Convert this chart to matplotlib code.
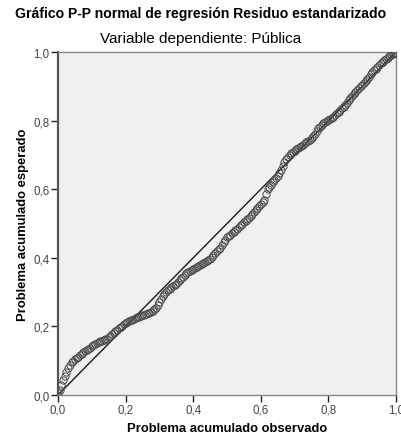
import matplotlib.pyplot as plt

plt.rcParams['font.family'] = ['Liberation Sans', 'DejaVu Sans']

titulo = "Gráfico P-P normal de regresión Residuo estandarizado"
subtitulo = "Variable dependiente: Pública"
etiqueta_x = "Problema acumulado observado"
etiqueta_y = "Problema acumulado esperado"
ticks = [0.0, 0.2, 0.4, 0.6, 0.8, 1.0]
ticks_txt = ["0,0", "0,2", "0,4", "0,6", "0,8", "1,0"]

# probabilidad acumulada observada
observado = [
    0.000, 0.005, 0.010, 0.015, 0.020, 0.025, 0.030, 0.035, 0.040, 0.045,
    0.050, 0.055, 0.060, 0.065, 0.070, 0.075, 0.080, 0.085, 0.090, 0.095,
    0.100, 0.105, 0.110, 0.115, 0.120, 0.125, 0.130, 0.135, 0.140, 0.145,
    0.150, 0.155, 0.160, 0.165, 0.170, 0.175, 0.180, 0.185, 0.190, 0.195,
    0.200, 0.205, 0.210, 0.215, 0.220, 0.225, 0.230, 0.235, 0.240, 0.245,
    0.250, 0.255, 0.260, 0.265, 0.270, 0.275, 0.280, 0.285, 0.290, 0.295,
    0.300, 0.305, 0.310, 0.315, 0.320, 0.325, 0.330, 0.335, 0.340, 0.345,
    0.350, 0.355, 0.360, 0.365, 0.370, 0.375, 0.380, 0.385, 0.390, 0.395,
    0.400, 0.405, 0.410, 0.415, 0.420, 0.425, 0.430, 0.435, 0.440, 0.445,
    0.450, 0.455, 0.460, 0.465, 0.470, 0.475, 0.480, 0.485, 0.490, 0.495,
    0.500, 0.505, 0.510, 0.515, 0.520, 0.525, 0.530, 0.535, 0.540, 0.545,
    0.550, 0.555, 0.560, 0.565, 0.570, 0.575, 0.580, 0.585, 0.590, 0.595,
    0.600, 0.605, 0.610, 0.615, 0.620, 0.625, 0.630, 0.635, 0.640, 0.645,
    0.650, 0.655, 0.660, 0.665, 0.670, 0.675, 0.680, 0.685, 0.690, 0.695,
    0.700, 0.705, 0.710, 0.715, 0.720, 0.725, 0.730, 0.735, 0.740, 0.745,
    0.750, 0.755, 0.760, 0.765, 0.770, 0.775, 0.780, 0.785, 0.790, 0.795,
    0.800, 0.805, 0.810, 0.815, 0.820, 0.825, 0.830, 0.835, 0.840, 0.845,
    0.850, 0.855, 0.860, 0.865, 0.870, 0.875, 0.880, 0.885, 0.890, 0.895,
    0.900, 0.905, 0.910, 0.915, 0.920, 0.925, 0.930, 0.935, 0.940, 0.945,
    0.950, 0.955, 0.960, 0.965, 0.970, 0.975, 0.980, 0.985, 0.990, 0.995,
    1.000,
]
# probabilidad acumulada esperada
esperado = [
    0.005, 0.015, 0.030, 0.045, 0.055, 0.068, 0.080, 0.088, 0.095, 0.100,
    0.105, 0.108, 0.112, 0.117, 0.120, 0.124, 0.128, 0.130, 0.133, 0.138,
    0.142, 0.146, 0.150, 0.153, 0.155, 0.157, 0.158, 0.160, 0.162, 0.164,
    0.168, 0.173, 0.178, 0.182, 0.186, 0.190, 0.194, 0.198, 0.202, 0.206,
    0.210, 0.213, 0.215, 0.218, 0.220, 0.222, 0.224, 0.226, 0.228, 0.230,
    0.232, 0.234, 0.236, 0.238, 0.240, 0.243, 0.246, 0.250, 0.254, 0.262,
    0.270, 0.280, 0.288, 0.295, 0.300, 0.305, 0.310, 0.314, 0.318, 0.321,
    0.325, 0.330, 0.335, 0.340, 0.345, 0.350, 0.355, 0.359, 0.362, 0.365,
    0.368, 0.370, 0.372, 0.375, 0.378, 0.381, 0.385, 0.388, 0.392, 0.395,
    0.398, 0.403, 0.408, 0.414, 0.420, 0.425, 0.430, 0.437, 0.445, 0.452,
    0.460, 0.464, 0.468, 0.472, 0.476, 0.480, 0.485, 0.490, 0.496, 0.500,
    0.505, 0.508, 0.512, 0.517, 0.522, 0.527, 0.533, 0.539, 0.545, 0.550,
    0.556, 0.562, 0.568, 0.585, 0.600, 0.606, 0.612, 0.620, 0.628, 0.634,
    0.640, 0.647, 0.655, 0.668, 0.680, 0.688, 0.695, 0.700, 0.705, 0.709,
    0.713, 0.717, 0.720, 0.723, 0.727, 0.730, 0.734, 0.738, 0.742, 0.745,
    0.749, 0.755, 0.762, 0.770, 0.778, 0.783, 0.788, 0.792, 0.796, 0.799,
    0.802, 0.805, 0.808, 0.812, 0.816, 0.821, 0.826, 0.831, 0.836, 0.841,
    0.847, 0.853, 0.860, 0.866, 0.872, 0.878, 0.885, 0.890, 0.895, 0.900,
    0.905, 0.910, 0.915, 0.921, 0.928, 0.935, 0.943, 0.948, 0.952, 0.957,
    0.962, 0.967, 0.972, 0.976, 0.980, 0.984, 0.988, 0.991, 0.994, 0.996,
    0.998,
]


def main():
    fig = plt.figure(figsize=(4.01, 4.39), dpi=100)
    ax = fig.add_axes([0.1446, 0.098, 0.843, 0.781])
    ax.set_facecolor('#f0f0f0')

    ax.plot([0, 1], [0, 1], color='#1a1a1a', linewidth=1.0, zorder=2)
    ax.plot(observado, esperado, linestyle='none', marker='o', markersize=5.2,
            markerfacecolor='none', markeredgecolor='#4a4a4a',
            markeredgewidth=0.7, zorder=3)

    ax.set_xlim(0, 1)
    ax.set_ylim(0, 1)
    ax.set_xticks(ticks)
    ax.set_xticklabels(ticks_txt)
    ax.set_yticks(ticks)
    ax.set_yticklabels(ticks_txt)
    ax.tick_params(length=5, width=1, color='#222222', labelsize=8.3,
                   labelcolor='#444444', pad=1)

    for lado in ['top', 'right', 'bottom']:
        ax.spines[lado].set_color('#888888')
        ax.spines[lado].set_linewidth(1)
    ax.spines['left'].set_color('#555555')
    ax.spines['left'].set_linewidth(1.6)

    ax.set_xlabel(etiqueta_x, fontsize=9.4, fontweight='bold', labelpad=5)
    ax.set_ylabel(etiqueta_y, fontsize=9.4, fontweight='bold', labelpad=3)

    fig.text(0.5, 0.967, titulo, ha='center', va='center', fontsize=10.1,
             fontweight='bold')
    fig.text(0.5, 0.912, subtitulo, ha='center', va='center', fontsize=11)

    fig.savefig('out.png', dpi=100)


if __name__ == "__main__":
    main()
